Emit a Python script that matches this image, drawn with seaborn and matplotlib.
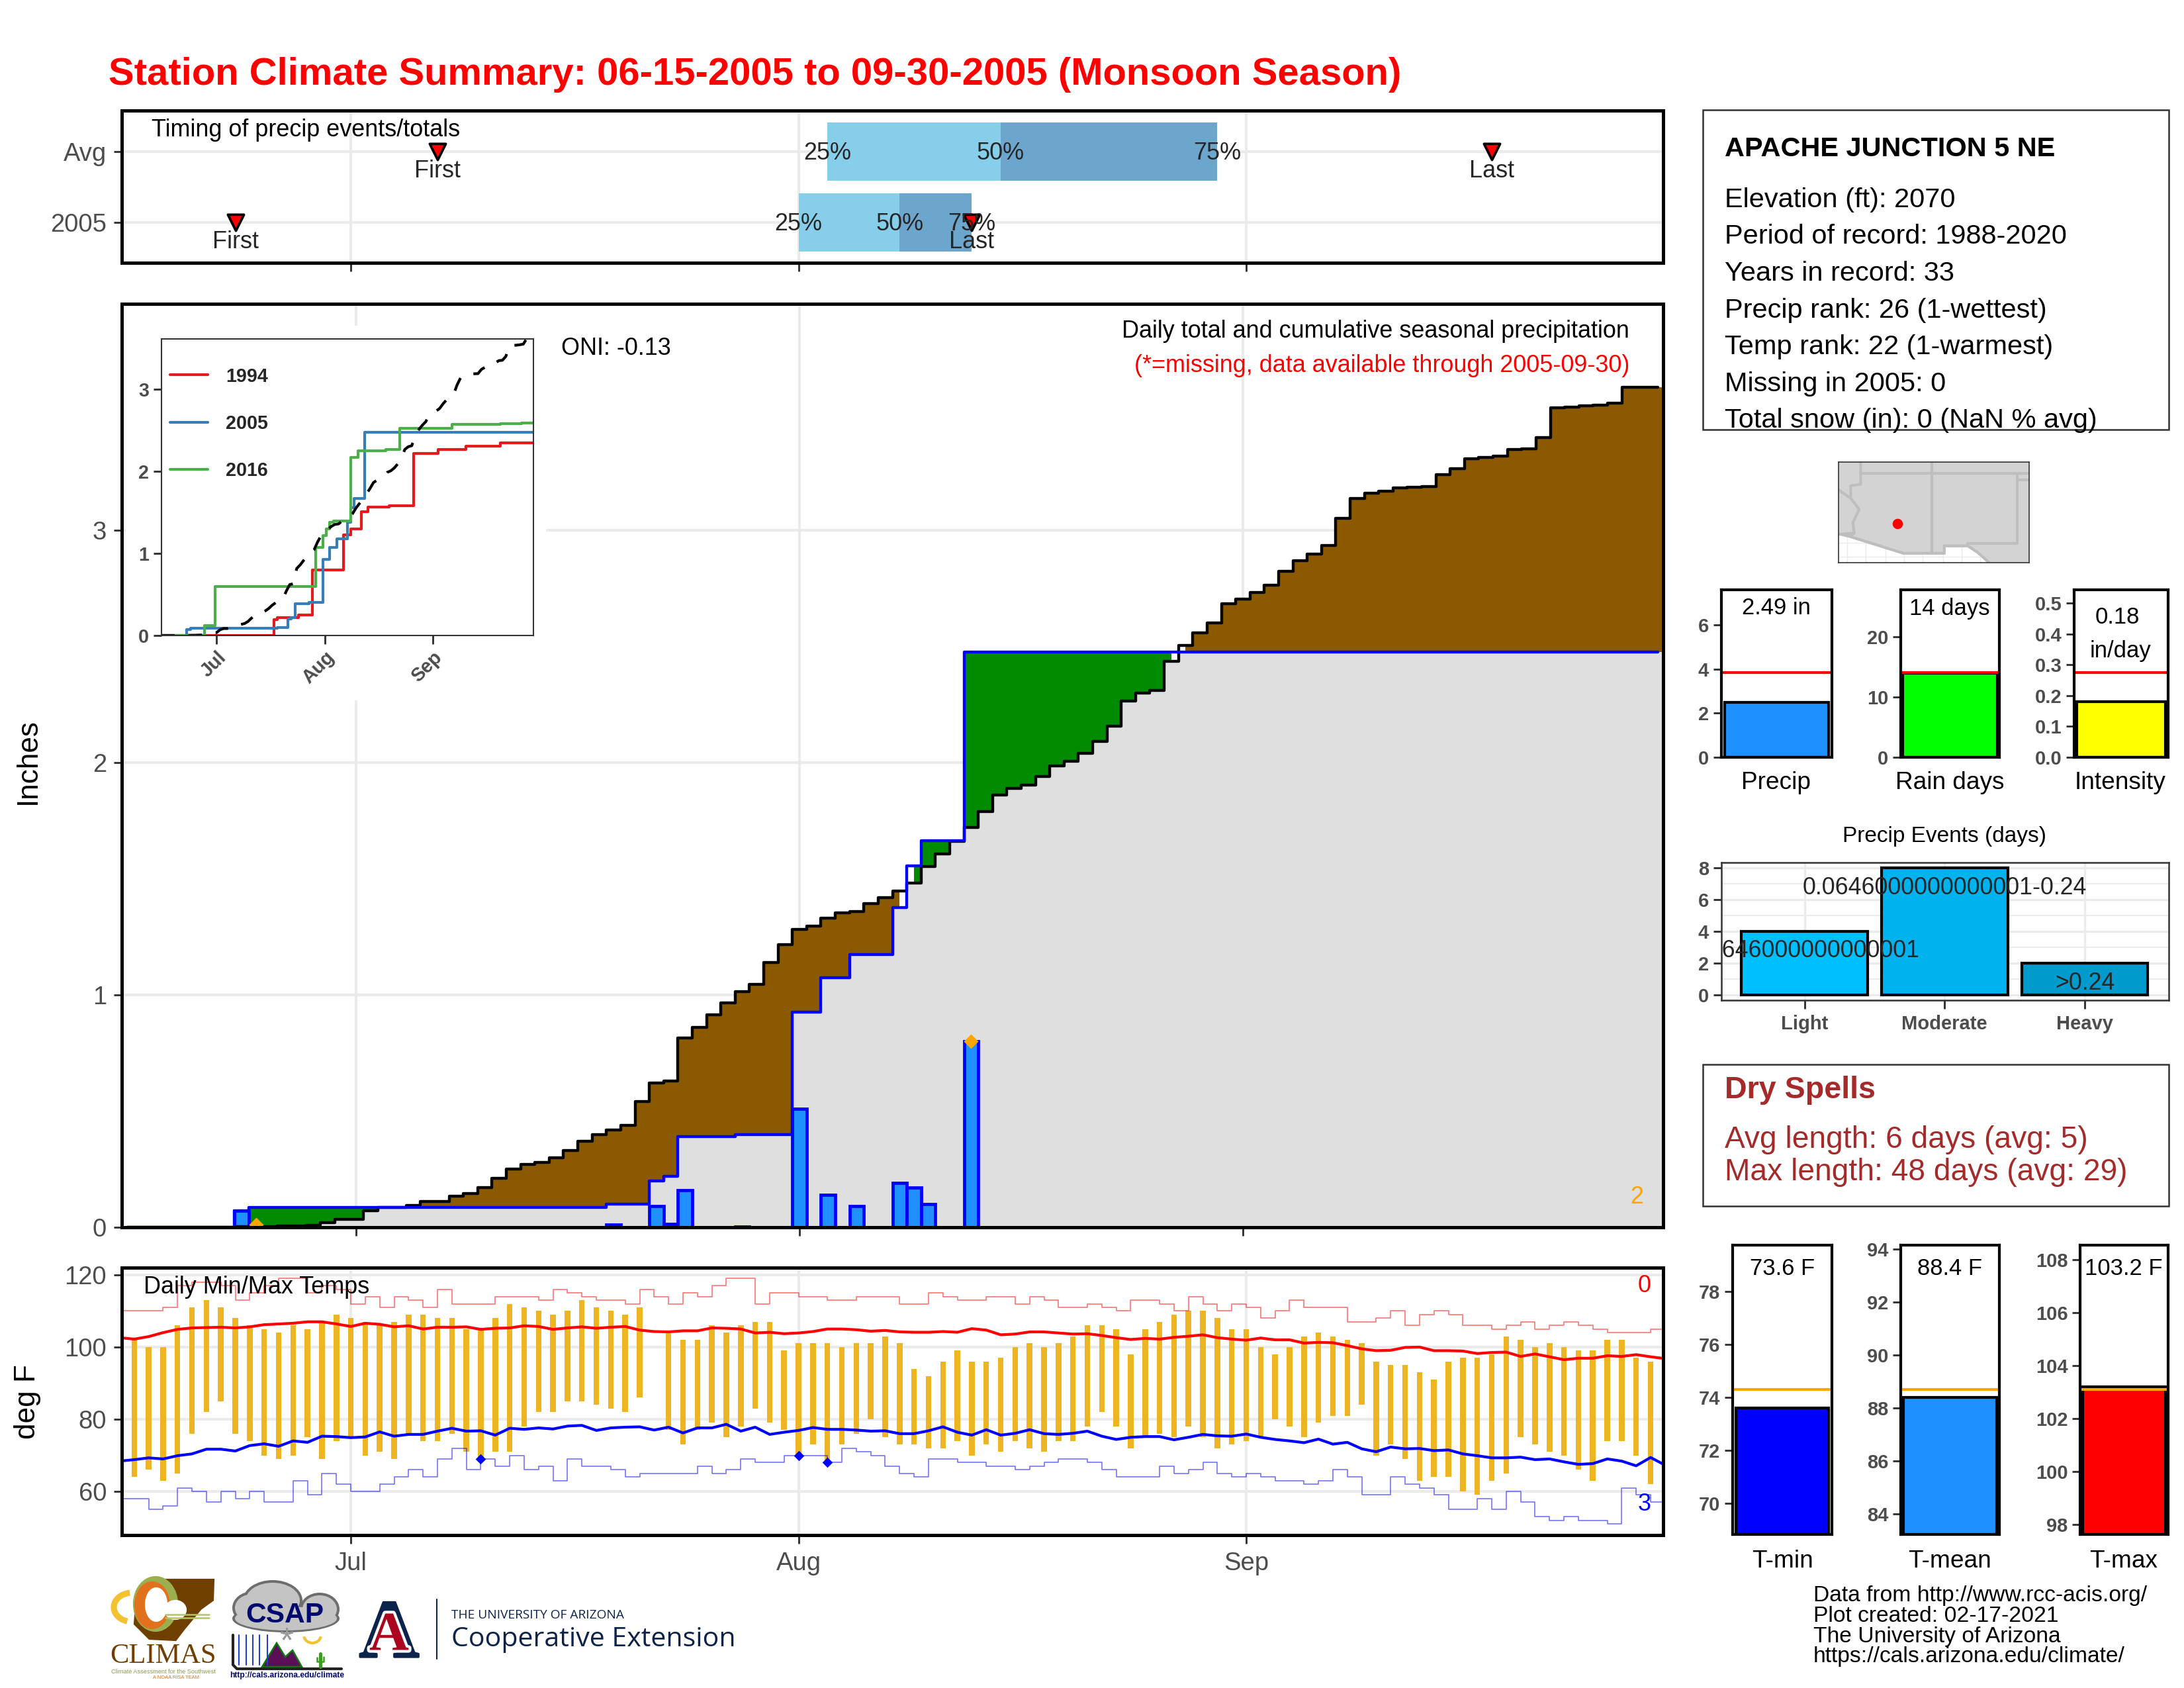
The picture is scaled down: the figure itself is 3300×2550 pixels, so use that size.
import numpy as np
import pandas as pd
import matplotlib
matplotlib.use("Agg")
import matplotlib.pyplot as plt
import matplotlib.patheffects as pe
from matplotlib.patches import Rectangle, Polygon, Ellipse, Arc
import seaborn as sns

W, H = 3300, 2550
nan = float("nan")

# days counted from Jun 15 (0) to Sep 30 (107)
month_days = [16, 47, 78]
month_names = ["Jul", "Aug", "Sep"]

# top panel, timing of precip
timing_rows = ["Avg", "2005"]
quart_avg = [49, 61, 76]
quart_2005 = [47, 54, 59]
first_last_avg = [22, 95]
first_last_2005 = [8, 59]

# cumulative precip, inches
clim_cum = [0, 0, 0, 0, 0, 0, 0, 0, .002, .002, .003, .005, .006, .008,
            .02, .035, .035, .07, .085, .085, .095, .11, .11, .135, .145, .17, .21, .25, .27, .28,
            .30, .33, .37, .40, .42, .44, .54, .62, .63, .815, .86, .915, .965, 1.015, 1.045, 1.14,
            1.215, 1.283, 1.296, 1.33, 1.353, 1.358, 1.393, 1.419, 1.448, 1.482, 1.552, 1.607, 1.66,
            1.722, 1.788, 1.861, 1.89, 1.903, 1.94, 1.987, 2.005, 2.04, 2.09, 2.157, 2.264, 2.298,
            2.31, 2.435, 2.505, 2.558, 2.602, 2.683, 2.704, 2.733, 2.764, 2.822, 2.869, 2.898, 2.935,
            3.05, 3.136, 3.16, 3.168, 3.183, 3.186, 3.188, 3.24, 3.264, 3.306, 3.314, 3.32, 3.346,
            3.35, 3.398, 3.526, 3.531, 3.534, 3.539, 3.547, 3.615, 3.615, 3.615]
cum_2005 = ([0] * 8 + [.07] + [.085] * 25 + [.10] * 3 + [.20, .22] + [.39] * 4 + [.40] * 4 + [.925] * 2
            + [1.075] * 2 + [1.175] * 3 + [1.377, 1.555] + [1.665] * 3 + [2.476] * 49)
cum_1994 = ([0] * 33 + [.197] + [.22] * 6 + [.25] * 4 + [.795] * 9 + [1.227] * 2 + [1.295] * 3 + [1.51] * 2
            + [1.564] * 6 + [1.58] * 7 + [2.218] * 7 + [2.263] * 8 + [2.307] * 10 + [2.346] * 10)
cum_2016 = ([0] * 13 + [.12] * 3 + [.594] * 29 + [1.07] * 2 + [1.218, 1.295, 1.376] + [1.397] * 5 + [2.167] * 2
            + [2.248] * 8 + [2.263] * 4 + [2.52] * 15 + [2.567] * 14 + [2.58] * 6 + [2.59] * 4)

# daily precip 2005
rain_days = [8, 34, 37, 38, 39, 43, 47, 49, 51, 54, 55, 56, 59]
rain_amt = [.07, .01, .09, .015, .16, .003, .51, .14, .09, .19, .17, .10, .80]
rec_rain_days = [9, 59]
rec_rain_amt = [.012, .80]

# daily temps
tmax = [nan, 102, 100, 100, 106, 111, 113, 111, 108, 106,
        105, 104, 106, 105, 107, 109, 108, 107, 106, 107,
        109, 109, 108, 108, 105, 105, 108, 112, 111, 110,
        109, 110, 113, 111, 110, 109, 111, nan, 104, 102,
        102, 106, 104, 106, 107, 107, 99, 101, 101, 101,
        100, 101, 101, 103, 101, 94, 92, 96, 99, 96,
        96, 97, 100, 101, 100, 101, 103, 106, 106, 105,
        98, 105, 107, 109, 110, 110, 108, 105, 105, 100,
        98, 100, 103, 104, 103, 102, 101, 96, 95, 95,
        93, 91, 96, 97, 97, 98, 103, 102, 100, 101,
        100, 99, 99, 102, 102, 97, 96, nan]
tmin = [nan, 64, 66, 63, 65, 76, 82, 85, 76, 74,
        70, 69, 70, 75, 69, 74, 75, 70, 71, 69,
        76, 74, 74, 76, 71, 69, 71, 71, 78, 82,
        82, 85, 85, 84, 83, 82, 86, nan, 77, 73,
        77, 79, 75, 78, 83, 79, 77, 70, 73, 68,
        73, 76, 80, 75, 73, 73, 72, 72, 74, 70,
        73, 71, 74, 72, 71, 74, 74, 78, 82, 78,
        72, 75, 76, 75, 78, 75, 72, 73, 74, 75,
        80, 78, 75, 79, 81, 81, 84, 70, 73, 69,
        63, 64, 64, 60, 59, 63, 65, 75, 73, 71,
        70, 66, 63, 74, 74, 70, 62, nan]
avg_tmax = [102.6, 102.2, 102.9, 104.0, 104.9, 105.3, 105.4, 105.5, 105.3, 105.6,
            106.2, 106.4, 106.6, 107.0, 107.0, 106.4, 105.7, 106.6, 106.3, 105.6,
            105.9, 105.0, 105.5, 105.5, 105.6, 104.9, 105.2, 105.3, 105.9, 105.7,
            104.9, 105.3, 105.6, 105.2, 105.5, 105.7, 104.7, 104.3, 104.2, 104.5,
            104.5, 105.3, 105.2, 105.0, 103.9, 104.1, 103.7, 103.9, 104.3, 105.0,
            105.0, 104.8, 104.4, 104.6, 104.2, 104.1, 104.1, 104.3, 104.1, 105.1,
            104.7, 103.4, 103.6, 104.2, 104.2, 103.9, 103.6, 103.7, 103.2, 102.6,
            102.1, 102.4, 102.2, 102.7, 103.0, 103.4, 102.6, 102.2, 101.9, 102.5,
            102.0, 102.0, 101.1, 101.3, 101.2, 100.4, 99.5, 99.0, 99.1, 99.9,
            100.0, 99.0, 99.0, 98.9, 98.2, 98.5, 98.6, 97.4, 98.1, 97.3,
            96.5, 96.9, 96.9, 97.6, 97.4, 97.9, 97.3, 96.8]
avg_tmin = [68.4, 68.8, 69.3, 69.0, 69.9, 70.4, 71.7, 71.7, 71.2, 72.7,
            73.2, 72.5, 74.0, 73.6, 75.3, 75.2, 74.9, 75.1, 76.5, 75.3,
            75.8, 75.8, 76.7, 77.5, 76.7, 76.8, 75.6, 77.5, 77.2, 77.6,
            77.3, 78.1, 78.3, 76.9, 77.6, 77.8, 77.9, 77.0, 77.8, 76.2,
            77.6, 77.6, 78.6, 76.7, 77.8, 75.8, 76.4, 76.9, 77.7, 77.2,
            77.2, 77.0, 76.7, 76.8, 76.0, 76.0, 76.8, 77.9, 76.4, 75.6,
            77.1, 75.6, 76.1, 77.1, 76.0, 75.8, 76.1, 76.7, 75.3, 74.4,
            75.0, 75.2, 75.2, 74.3, 75.0, 75.8, 75.4, 75.3, 75.9, 75.0,
            74.4, 74.0, 73.5, 74.5, 73.1, 73.6, 71.8, 71.0, 72.3, 71.8,
            71.9, 71.3, 71.5, 70.4, 69.9, 69.3, 69.3, 69.5, 68.8, 69.0,
            68.2, 67.5, 67.7, 69.0, 68.4, 67.1, 69.4, 67.3]
rec_high = [110, 110, 110, 111, 117, 118, 118, 117, 113, 115,
            117, 119, 119, 115, 117, 116, 112, 114, 111, 114,
            113, 111, 116, 112, 112, 112, 114, 114, 114, 113,
            116, 115, 114, 113, 113, 112, 116, 114, 112, 115,
            114, 117, 119, 119, 112, 115, 115, 114, 114, 113,
            113, 114, 114, 114, 112, 112, 115, 114, 113, 113,
            114, 114, 112, 114, 113, 111, 111, 112, 111, 110,
            113, 113, 112, 110, 114, 112, 110, 112, 111, 108,
            110, 113, 111, 111, 111, 107, 107, 108, 110, 106,
            109, 110, 109, 106, 106, 105, 106, 107, 105, 106,
            107, 106, 105, 104, 104, 104, 105, 105]
rec_low = [58, 58, 55, 56, 61, 60, 57, 60, 58, 60,
           57, 57, 63, 59, 65, 62, 60, 60, 62, 64,
           66, 64, 69, 72, 66, 69, 67, 70, 66, 67,
           63, 69, 67, 67, 66, 64, 65, 65, 65, 65,
           67, 65, 66, 69, 68, 68, 70, 70, 70, 68,
           72, 71, 70, 67, 65, 64, 69, 69, 68, 68,
           67, 67, 66, 67, 68, 69, 69, 68, 66, 64,
           64, 64, 67, 65, 66, 68, 65, 64, 65, 64,
           63, 63, 62, 63, 66, 64, 59, 59, 64, 62,
           61, 59, 55, 55, 58, 55, 60, 57, 53, 52,
           53, 52, 52, 51, 61, 59, 57, 57]
rec_cold_days = [25, 47, 49]
rec_cold_vals = [69, 70, 68]

# small summary bars
precip_val, precip_avg = 2.49, 3.84
raindays_val, raindays_avg = 14, 14.05
intensity_val, intensity_avg = 0.18, 0.274
event_names = ["Light", "Moderate", "Heavy"]
event_days = [4, 8, 2]
event_colors = ["#00BFFF", "#00B2EE", "#009ACD"]
tmin_val, tmin_avg = 73.6, 74.3
tmean_val, tmean_avg = 88.4, 88.7
tmaxbar_val, tmaxbar_avg = 103.2, 103.1

station_lines = ["Elevation (ft): 2070", "Period of record: 1988-2020", "Years in record: 33",
                 "Precip rank: 26 (1-wettest)", "Temp rank: 22 (1-warmest)", "Missing in 2005: 0",
                 "Total snow (in): 0 (NaN % avg)"]
footer_lines = ["Data from http://www.rcc-acis.org/", "Plot created: 02-17-2021",
                "The University of Arizona", "https://cals.arizona.edu/climate/"]

# locator map, lon/lat
land_lon = [-115.6, -114.8, -111.07, -108.2, -108.2, -106.55, -105.85, -105.05, -102.25, -102.25, -115.6]
land_lat = [32.65, 32.45, 31.25, 31.25, 31.78, 31.78, 31.3, 30.57, 30.57, 37.8, 37.8]
border_lines = [([-114.05, -114.05, -114.75, -114.75, -114.15, -114.6, -114.5, -114.8],
                 [37.8, 36.2, 36.1, 35.2, 34.4, 33.45, 32.7, 32.45]),
                ([-115.6, -114.75], [35.8, 35.2]),
                ([-115.6, -114.5], [32.6, 32.7]),
                ([-114.05, -102.25], [37, 37]),
                ([-109.05, -109.05], [37.8, 31.25]),
                ([-103.1, -103.1, -106.55], [37, 31.95, 31.95]),
                ([-103.1, -102.25], [36.5, 36.5])]
station_lon, station_lat = -111.5, 33.4

sns.set_theme(style="white")
plt.rcParams["font.family"] = ["Liberation Sans", "DejaVu Sans"]
plt.rcParams["axes.unicode_minus"] = False

days = np.arange(108)
GRID = "#EBEBEB"
GREY = "#4D4D4D"
TICK = "#333333"
LABEL = 8.65
VALUE = 8.3
fig = plt.figure(figsize=(11, 8.5), dpi=300)


def panel(l, t, r, b, zorder=1):
    return fig.add_axes([l / W, 1 - b / H, (r - l) / W, (b - t) / H], zorder=zorder)


def put(x, y, s, **kw):
    kw.setdefault("ha", "left")
    kw.setdefault("va", "center")
    kw.setdefault("fontsize", LABEL)
    kw.setdefault("color", "black")
    fig.text(x / W, 1 - (y + 4) / H, s, **kw)


def frame(ax, lw=1.2, color="black"):
    for s in ax.spines.values():
        s.set_visible(True)
        s.set_linewidth(lw)
        s.set_color(color)
        s.set_zorder(20)


def line(ax, x, y, **kw):
    sns.lineplot(x=x, y=y, ax=ax, estimator=None, errorbar=None, sort=False, **kw)


# backdrop for boxes and logos
bg = fig.add_axes([0, 0, 1, 1], zorder=0)
bg.set_xlim(0, W)
bg.set_ylim(H, 0)
bg.axis("off")

put(164, 109, "Station Climate Summary: 06-15-2005 to 09-30-2005 (Monsoon Season)",
    color="red", fontweight="bold", fontsize=13.93)

# ---- timing panel
ax = panel(184, 167, 2513, 397)
ax.set_xlim(0.14, 106.87)
ax.set_ylim(-0.57, 1.58)
ax.set_axisbelow(True)
ax.grid(True, color=GRID, lw=1.0)
for y, q in zip([1, 0], [quart_avg, quart_2005]):
    ax.barh(y, q[1] - q[0] + 0.2, left=q[0], height=0.83, color="#87CEEB", lw=0, zorder=2)
    ax.barh(y, q[2] - q[1], left=q[1], height=0.83, color="#6CA6CD", lw=0, zorder=2.1)
    for d, lab in zip(q, ["25%", "50%", "75%"]):
        ax.text(d, y - 0.02, lab, ha="center", va="center", fontsize=LABEL, zorder=5)
for y, fl in zip([1, 0], [first_last_avg, first_last_2005]):
    sns.scatterplot(x=fl, y=[y, y], ax=ax, marker="v", s=34, color="red", edgecolor="black",
                    linewidth=0.9, zorder=4, legend=False)
    ax.text(fl[0], y - 0.275, "First", ha="center", va="center", fontsize=LABEL, zorder=5)
    ax.text(fl[1], y - 0.275, "Last", ha="center", va="center", fontsize=LABEL, zorder=5)
put(229, 193, "Timing of precip events/totals", zorder=30)
ax.set_yticks([1, 0], timing_rows)
ax.set_xticks(month_days, [])
ax.tick_params(axis="y", length=3, width=0.7, color=TICK, labelcolor=GREY, labelsize=9.2, pad=2.5, left=True)
ax.tick_params(axis="x", length=3, width=0.7, color=TICK, bottom=True)
ax.set_ylabel("")
ax.set_xlabel("")
frame(ax)

# ---- cumulative precip panel
ax = panel(184, 459, 2513, 1854)
ax.set_axisbelow(True)
ax.grid(True, color=GRID, lw=1.0)
clim = np.array(clim_cum)
obs = np.array(cum_2005)
fill_x = np.r_[days, 108]
c2 = np.r_[clim, clim[-1]]
o2 = np.r_[obs, obs[-1]]
ax.fill_between(fill_x, 0, np.minimum(c2, o2), step="mid", color="#DFDFDF", lw=0, zorder=1.5)
ax.fill_between(fill_x, o2, c2, where=c2 >= o2, step="mid", color="#8B5A00", lw=0, zorder=1.6)
ax.fill_between(fill_x, c2, o2, where=o2 >= c2, step="mid", color="#008B00", lw=0, zorder=1.6)
sns.barplot(x=rain_days, y=rain_amt, native_scale=True, width=1.0, color="#1E90FF", saturation=1,
            edgecolor="blue", linewidth=1.15, ax=ax, zorder=3)
line(ax, days, clim, color="black", lw=1.05, drawstyle="steps-mid", zorder=4)
line(ax, days, obs, color="blue", lw=1.05, drawstyle="steps-mid", zorder=5)
sns.scatterplot(x=rec_rain_days, y=rec_rain_amt, ax=ax, marker="D", s=14, color="orange", linewidth=0,
                zorder=6, legend=False)
ax.set_xlim(-0.39, 107.39)
ax.set_ylim(0, 3.974)
ax.set_xticks(month_days, [])
ax.set_yticks([0, 1, 2, 3], ["0", "1", "2", "3"])
ax.tick_params(axis="y", length=3, width=0.7, color=TICK, labelcolor=GREY, labelsize=9.2, pad=2.5, left=True)
ax.tick_params(axis="x", length=3, width=0.7, color=TICK, bottom=True)
ax.set_xlabel("")
ax.set_ylabel("")
frame(ax)

put(42, 1146, "Inches", rotation=90, ha="center", fontsize=10.6)
put(848, 523, "ONI: -0.13", zorder=30)
put(2462, 496, "Daily total and cumulative seasonal precipitation", ha="right", zorder=30)
put(2462, 548, "(*=missing, data available through 2005-09-30)", ha="right", color="red", zorder=30)
put(2473, 1804, "2", ha="center", color="orange", zorder=30)

# ---- inset with white plate behind it
fig.add_artist(Rectangle((190 / W, 1 - 1058 / H), (825 - 190) / W, (1058 - 492) / H,
                         transform=fig.transFigure, facecolor="white", edgecolor="none", zorder=2))
inset = panel(244, 512, 806, 960, zorder=3)
years = pd.DataFrame({"day": np.tile(days, 3),
                      "cum": cum_1994 + cum_2005 + cum_2016,
                      "year": ["1994"] * 108 + ["2005"] * 108 + ["2016"] * 108})
sns.lineplot(data=years, x="day", y="cum", hue="year", palette=sns.color_palette("Set1", 3), ax=inset,
             drawstyle="steps-mid", lw=1.0, estimator=None, errorbar=None)
line(inset, days, clim, color="black", lw=1.0, linestyle=(0, (5, 5)), zorder=5)
inset.set_xlim(0.2, 106.9)
inset.set_ylim(0, 3.61)
inset.set_xticks(month_days, month_names, rotation=45, ha="right", rotation_mode="anchor", fontweight="bold")
inset.set_yticks([0, 1, 2, 3], ["0", "1", "2", "3"], fontweight="bold")
inset.tick_params(length=3, width=0.7, color=TICK, labelcolor=GREY, labelsize=6.9, pad=1.5,
                  left=True, bottom=True)
inset.set_xlabel("")
inset.set_ylabel("")
inset.legend(frameon=False, loc="upper left", bbox_to_anchor=(0.023, 0.905), borderaxespad=0, borderpad=0,
             labelspacing=1.5, handlelength=2.0, handletextpad=0.94,
             prop={"size": 6.9, "weight": "bold"})
frame(inset, lw=0.5, color=TICK)

# ---- daily temps
ax = panel(184, 1915, 2513, 2319)
ax.set_axisbelow(True)
ax.grid(True, color=GRID, lw=1.0)
hi = np.array(tmax, dtype=float)
lo = np.array(tmin, dtype=float)
ax.bar(days, hi - lo, bottom=lo, width=0.39, color="#EEB422", lw=0, zorder=2)
line(ax, days, rec_high, color="red", alpha=0.55, lw=0.4, drawstyle="steps-post", zorder=3)
line(ax, days, rec_low, color="blue", alpha=0.55, lw=0.4, drawstyle="steps-post", zorder=3)
line(ax, days, avg_tmax, color="red", lw=1.0, zorder=4)
line(ax, days, avg_tmin, color="blue", lw=1.0, zorder=4)
sns.scatterplot(x=rec_cold_days, y=rec_cold_vals, ax=ax, marker="D", s=7, color="blue", linewidth=0,
                zorder=6, legend=False)
ax.set_xlim(0.14, 106.87)
ax.set_ylim(47.9, 122)
ax.set_xticks(month_days, month_names)
ax.set_yticks([60, 80, 100, 120], ["60", "80", "100", "120"])
ax.tick_params(length=3, width=0.7, color=TICK, labelcolor=GREY, labelsize=9.2, pad=3, left=True, bottom=True)
ax.tick_params(axis="y", pad=2.5)
ax.set_xlabel("")
ax.set_ylabel("")
frame(ax)
put(42, 2113, "deg F", rotation=90, ha="center", fontsize=10.6)
put(217, 1940, "Daily Min/Max Temps", zorder=30)
put(2485, 1939, "0", ha="center", color="red", zorder=30)
put(2485, 2269, "3", ha="center", color="blue", zorder=30)


def summary_bar(rect, half, value, avg, fill, avg_color, ylim, yticks, fmt="{:d}"):
    a = panel(*rect)
    sns.barplot(x=["v"], y=[value], width=0.9, color=fill, saturation=1, edgecolor="black",
                linewidth=1.0, ax=a, zorder=2)
    a.axhline(avg, color=avg_color, lw=1.0, zorder=3)
    a.set_xlim(-half, half)
    a.set_ylim(*ylim)
    a.set_xticks([])
    a.set_yticks(yticks, [fmt.format(t) for t in yticks], fontweight="bold")
    a.tick_params(axis="y", length=3, width=0.7, color=TICK, labelcolor=GREY, labelsize=7, pad=1.5, left=True)
    a.set_xlabel("")
    a.set_ylabel("")
    frame(a, lw=1.0)
    return a


summary_bar((2601, 891, 2768, 1144), 0.478, precip_val, precip_avg, "#1E90FF", "red", (0, 7.6), [0, 2, 4, 6])
summary_bar((2872, 891, 3021, 1144), 0.47, raindays_val, raindays_avg, "#00FF00", "red", (0, 27.8), [0, 10, 20])
summary_bar((3134, 891, 3276, 1144), 0.474, intensity_val, intensity_avg, "#FFFF00", "red", (0, 0.543),
            [0.0, 0.1, 0.2, 0.3, 0.4, 0.5], "{:.1f}")
put(2684, 915, "2.49 in", ha="center", zorder=30, fontsize=VALUE)
put(2946, 915, "14 days", ha="center", zorder=30, fontsize=VALUE)
put(3199, 928, "0.18", ha="center", zorder=30, fontsize=VALUE)
put(3204, 979, "in/day", ha="center", zorder=30, fontsize=VALUE)
put(2684, 1178, "Precip", ha="center", fontsize=8.9)
put(2946, 1178, "Rain days", ha="center", fontsize=8.9)
put(3204, 1178, "Intensity", ha="center", fontsize=8.9)

# ---- precip events
ax = panel(2601, 1303, 3277, 1511)
ax.set_axisbelow(True)
sns.barplot(x=event_names, y=event_days, hue=event_names, palette=event_colors, saturation=1, width=0.9,
            edgecolor="black", linewidth=1.0, legend=False, ax=ax, zorder=2)
ax.set_xlim(-0.593, 2.6)
ax.set_ylim(-0.34, 8.34)
ax.set_yticks([0, 2, 4, 6, 8], ["0", "2", "4", "6", "8"], fontweight="bold")
ax.set_yticks([1, 3, 5, 7], minor=True)
ax.set_xticks([0, 1, 2], event_names, fontweight="bold")
ax.grid(True, which="major", color=GRID, lw=0.8)
ax.grid(True, which="minor", axis="y", color=GRID, lw=0.5)
ax.tick_params(which="major", length=3, width=0.7, color=TICK, labelcolor=GREY, labelsize=7, pad=2.2,
               left=True, bottom=True)
ax.tick_params(axis="y", pad=1.5)
ax.tick_params(which="minor", length=0)
ax.set_xlabel("")
ax.set_ylabel("")
for x, y, s in zip([0, 1, 2], [2.78, 6.75, 0.74],
                   ["0.0646000000000001", "0.0646000000000001-0.24", ">0.24"]):
    ax.text(x, y, s, ha="center", va="center", fontsize=8.6, clip_on=True, zorder=5)
frame(ax, lw=0.6, color=TICK)
put(2938, 1260, "Precip Events (days)", ha="center", fontsize=8)

# ---- temp summary bars
summary_bar((2618, 1881, 2768, 2318), 0.481, tmin_val, tmin_avg, "#0000FF", "orange", (68.82, 79.74),
            [70, 72, 74, 76, 78])
summary_bar((2872, 1881, 3021, 2318), 0.478, tmean_val, tmean_avg, "#1E90FF", "orange", (83.23, 94.14),
            [84, 86, 88, 90, 92, 94])
summary_bar((3143, 1881, 3276, 2318), 0.476, tmaxbar_val, tmaxbar_avg, "#FF0000", "orange", (97.63, 108.55),
            [98, 100, 102, 104, 106, 108])
put(2693, 1912, "73.6 F", ha="center", zorder=30, fontsize=VALUE)
put(2946, 1912, "88.4 F", ha="center", zorder=30, fontsize=VALUE)
put(3209, 1912, "103.2 F", ha="center", zorder=30, fontsize=VALUE)
put(2693, 2354, "T-min", ha="center", fontsize=8.9)
put(2946, 2354, "T-mean", ha="center", fontsize=8.9)
put(3209, 2354, "T-max", ha="center", fontsize=8.9)

for y, s in zip([2406, 2437, 2469, 2499], footer_lines):
    put(2740, y, s, fontsize=8.07)

# ---- station box
bg.add_patch(Rectangle((2573, 166), 704, 483, facecolor="white", edgecolor=TICK, lw=0.6))
put(2606, 221, "APACHE JUNCTION 5 NE", fontweight="bold", fontsize=9.96)
for y, s in zip([298, 353, 409, 465, 520, 576, 631], station_lines):
    put(2606, y, s, fontsize=9.96)

# ---- dry spells box
bg.add_patch(Rectangle((2573, 1608), 704, 214, facecolor="white", edgecolor=TICK, lw=0.6))
put(2606, 1643, "Dry Spells", color="#A52A2A", fontweight="bold", fontsize=11.2)
put(2606, 1718, "Avg length: 6 days (avg: 5)", color="#A52A2A", fontsize=11.08)
put(2606, 1767, "Max length: 48 days (avg: 29)", color="#A52A2A", fontsize=11.08)

# ---- locator map
m = panel(2778, 698, 3066, 850)
m.set_xlim(-115.6, -102.26)
m.set_ylim(30.57, 37.8)
m.set_axisbelow(True)
m.set_xticks([-115, -113.7, -112.3, -111, -109.7, -108.3, -107, -105.7, -104.3, -103], [])
m.set_yticks([31, 32], [])
m.grid(True, color=GRID, lw=0.35)
m.fill(land_lon, land_lat, color="#D3D3D3", zorder=2)
m.plot(land_lon[:8], land_lat[:8], color="#BEBEBE", lw=1.0, zorder=3)
for lons, lats in border_lines:
    m.plot(lons, lats, color="#BEBEBE", lw=1.0, zorder=3)
sns.scatterplot(x=[station_lon], y=[station_lat], ax=m, color="red", s=14, linewidth=0, zorder=4, legend=False)
m.set_xlabel("")
m.set_ylabel("")
frame(m, lw=0.4, color=TICK)

# ---- logos, rough redraws in figure pixels
brown = "#6F3F00"
bg.add_patch(Polygon([(246, 2387), (322, 2387), (321, 2417), (303, 2430), (278, 2460), (265, 2477),
                      (226, 2475), (204, 2453), (207, 2417)], color=brown))
bg.add_patch(Ellipse((235, 2423), 64, 80, color="#9BAF4F"))
bg.add_patch(Ellipse((230, 2425), 50, 68, color="#E2711D"))
bg.add_patch(Ellipse((236, 2424), 30, 48, color="white"))
bg.add_patch(Ellipse((265, 2432), 30, 26, color="white"))
bg.add_patch(Arc((200, 2428), 56, 44, theta1=110, theta2=260, color="#F2C230", lw=2.2))
for y in [2439, 2444]:
    bg.plot([250, 316], [y, y], color="#B5C267", lw=0.6)
put(247, 2498, "CLIMAS", ha="center", color=brown, family="Liberation Serif", fontsize=10.2)
put(247, 2521, "Climate Assessment for the Southwest", ha="center", color="#8A9A4A", fontsize=2.2)
put(266, 2530, "A NOAA RISA TEAM", ha="center", color="#E2711D", fontsize=1.8)

for (cx, cy, w, h) in [(432, 2445, 162, 42), (412, 2418, 90, 62), (483, 2431, 60, 50), (382, 2429, 62, 50)]:
    bg.add_patch(Ellipse((cx, cy), w, h, facecolor="#6E6E6E", edgecolor="none"))
for (cx, cy, w, h) in [(432, 2445, 154, 36), (412, 2418, 82, 54), (483, 2431, 52, 42), (382, 2429, 54, 42)]:
    bg.add_patch(Ellipse((cx, cy), w, h, facecolor="#C4C4C4", edgecolor="none"))
put(430, 2436, "CSAP", ha="center", color="#000A6E", fontweight="bold", fontsize=10.2)
for x in [361, 372, 382, 392, 404]:
    bg.plot([x, x], [2470, 2515], color="#1F3FD0", lw=0.5)
bg.plot([352, 352, 358, 516], [2470, 2515, 2521, 2521], color="#222222", lw=1.0)
bg.add_patch(Polygon([(396, 2518), (418, 2482), (431, 2503), (442, 2493), (456, 2518)],
                     facecolor="#5B0F57", edgecolor="#0B7A0B", lw=0.6))
bg.add_patch(Arc((472, 2470), 26, 24, theta1=10, theta2=170, color="#F2C230", lw=1.0))
put(433, 2477, "*", ha="center", color="#999999", fontsize=13)
bg.plot([484, 484], [2498, 2518], color="#3C9A1E", lw=1.2)
bg.plot([479, 479, 489, 489], [2504, 2510, 2510, 2503], color="#3C9A1E", lw=0.6)
put(434, 2527, "http://cals.arizona.edu/climate", ha="center", color="#000A6E", fontweight="bold", fontsize=2.9)

put(588, 2469, "A", ha="center", color="#0C234B", family="Liberation Serif", fontweight="bold", fontsize=30,
    path_effects=[pe.withStroke(linewidth=0.8, foreground="#0C234B")])
put(588, 2469, "A", ha="center", color="#AB0520", family="Liberation Serif", fontweight="bold", fontsize=20,
    path_effects=[pe.withStroke(linewidth=2.0, foreground="white")])
bg.plot([660, 660], [2416, 2506], color="#0C234B", lw=0.5)
put(682, 2436, "THE UNIVERSITY OF ARIZONA", color="#0C234B", family="Open Sans", fontsize=4.6)
put(682, 2473, "Cooperative Extension", color="#0C234B", family="Open Sans", fontsize=9.87)

fig.savefig("out.png", dpi=300)
